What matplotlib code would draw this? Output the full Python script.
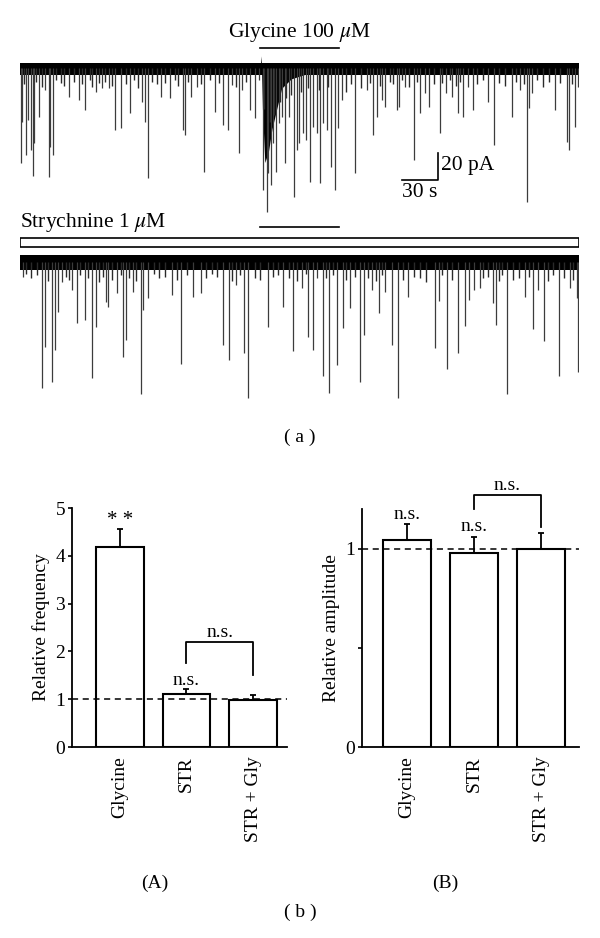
import numpy as np
import matplotlib
matplotlib.use("Agg")
import matplotlib.pyplot as plt
from matplotlib.patches import Rectangle

plt.rcParams['font.family'] = ['Liberation Serif', 'DejaVu Serif']
plt.rcParams['mathtext.fontset'] = 'stix'

# ---- (a) traces: event times (s) and amplitudes (pA)
dur = 465.8

t1 = [0.8, 1.7, 5, 6.7, 9.2, 10.8, 11.7, 15.8, 20.8, 24.2, 25, 27.5, 40.8, 49.2, 54.2,
      63.3, 68.3, 74.2, 79.2, 84.2, 91.7, 101.7, 104.2, 106.7, 117.5, 125, 135.8, 137.5,
      142.5, 147.5, 153.3, 162.5, 169.2, 173.3, 176.7, 182.5, 185, 191.7, 195.8, 199.2,
      202.5, 205.8, 206.7, 209.2, 210.8, 213.3, 215.8, 218.3, 220.8, 224.2, 228.3, 230.8,
      232.5, 235.8, 238.3, 241.7, 244.2, 247.5, 250, 252.5, 255.8, 259.2, 262.5, 265,
      268.3, 279.2, 289.2, 294.2, 297.5, 301.7, 304.2, 314.2, 315.8, 320.8, 328.3, 333.3,
      337.5, 340.8, 350, 355, 360, 365, 369.2, 373.3, 377.5, 390, 395, 410, 416.7, 422.5,
      424.2, 426.7, 445.8, 455.8, 457.5, 462.5, 465]
a1 = [70.4, 40, 64.4, 38.5, 60.7, 80, 55.6, 36.3, 16.3, 80.7, 58.5, 64.4, 21.5, 23.7, 31.1,
      17.8, 14.8, 14.8, 45.9, 44.4, 33.3, 25.2, 40, 81.5, 21.5, 22.2, 45.9, 49.6,
      21.5, 14.1, 77, 32.6, 42.2, 45.9, 12.6, 63, 16.3, 31.1, 37, 8.9,
      90.4, 106.7, 77.8, 86.7, 55.6, 77, 40.7, 36.3, 70.4, 36.3, 95.6, 60.7,
      55.6, 48.1, 53.3, 84.4, 43.7, 48.1, 85.2, 40.7, 45.9, 73.3, 90.4, 44.4,
      23.7, 77.8, 16.3, 49.6, 36.3, 23.7, 28.9, 31.1, 28.9, 14.1, 68.1, 33.3,
      18.5, 28.9, 48.1, 18.5, 21.5, 33.3, 36.3, 14.1, 31.1, 25.2, 57, 36.3, 16.3, 99.3,
      29.6, 18.5, 31.1, 54.8, 60.7, 43.7, 14.1]

# small events fringing the baseline (trace 1)
s1_t = [3, 13, 18, 30, 34, 37, 45, 52, 58, 60, 66, 71, 77, 88, 95, 98, 110, 114, 121, 129,
        132, 140, 151, 158, 166, 180, 188, 203, 208, 212, 217, 222, 226, 234, 240, 249,
        257, 272, 276, 284, 292, 300, 308, 311, 318, 324, 331, 345, 352, 358, 363, 367,
        381, 386, 399, 404, 413, 420, 431, 436, 441, 450, 460]
s1_a = [12, 10, 14, 9, 11, 13, 10, 12, 9, 14, 11, 10, 13, 12, 9, 15, 10, 12, 11, 9,
        13, 10, 12, 9, 11, 14, 10, 30, 40, 35, 25, 22, 20, 18, 15, 16,
        14, 18, 12, 15, 11, 13, 10, 12, 9, 14, 10, 12, 11, 9, 13, 10,
        12, 9, 11, 13, 10, 12, 9, 14, 10, 11, 12]

# inward current during glycine application (trace 1)
gly_t = [200.0, 201.0, 202.0, 204, 207, 210, 214, 218, 226, 240, 260]
gly_i = [0, 9, -30, -70, -62, -45, -30, -15, -8, -4, 0]

t2 = [2.5, 18.3, 20.8, 26.7, 29.2, 31.7, 35, 43.3, 47.5, 54.2, 60, 63.3, 71.7, 73.3, 80.8,
      85.8, 88.3, 94.2, 100.8, 102.5, 106.7, 126.7, 134.2, 144.2, 150.8, 169.2, 174.2,
      180, 186.7, 190, 206.7, 219.2, 227.5, 235, 240, 244.2, 247.5, 252.5, 257.5, 264.2,
      269.2, 275, 283.3, 286.7, 293.3, 299.2, 304.2, 310, 315, 323.3, 345.8, 349.2,
      355.8, 365, 370.8, 374.2, 378.3, 383.3, 394.2, 396.7, 405.8, 420.8, 427.5, 431.7,
      436.7, 449.2, 458.3, 464.2, 465]
a2 = [11.1, 93.3, 63, 88.9, 65.2, 37, 14.8, 20.7, 45.2, 43, 85.9, 48.1, 29.6, 33.3, 23,
      70.4, 57.8, 22.2, 97.8, 35.6, 26.7, 24.4, 75.6, 25.9, 23, 61.5, 72.6,
      17, 67.4, 100.7, 48.1, 33.3, 65.9, 19.3, 55.6, 65.2, 11.9, 84.4, 97, 76.3,
      48.9, 34.1, 88.9, 54.1, 20.7, 37.8, 22.2, 61.5, 100.7, 25.9, 63.7, 28.9,
      79.3, 67.4, 47.4, 28.1, 20.7, 19.3, 30.4, 46.7, 97.8, 25.9, 49.6, 20.7,
      58.5, 84.4, 19.3, 26.7, 81.5]

# small events fringing the baseline (trace 2)
s2_t = [5, 9, 14, 23, 38, 41, 50, 57, 66, 69, 77, 84, 91, 97, 112, 116, 121, 131, 139,
        155, 160, 164, 177, 183, 196, 200, 211, 215, 224, 231, 238, 255, 261, 272, 279,
        290, 297, 302, 319, 328, 333, 338, 352, 360, 386, 390, 399, 402, 411, 416, 424,
        440, 444, 453, 461]
s2_a = [9, 12, 10, 14, 11, 13, 10, 12, 15, 11, 13, 10, 12, 14, 9, 12, 11, 13, 10,
        12, 9, 11, 14, 10, 12, 13, 11, 10, 12, 14, 9, 12, 10, 13, 11,
        12, 14, 10, 13, 11, 12, 15, 10, 13, 12, 11, 14, 10, 13, 12, 11,
        14, 10, 12, 13]

# ---- (b) bar data
groups = ['Glycine', 'STR', 'STR + Gly']
freq = [4.18, 1.11, 0.99]
freq_err = [0.38, 0.10, 0.09]
amp = [1.045, 0.98, 1.0]
amp_err = [0.08, 0.08, 0.08]

W, H = 600, 938
fig = plt.figure(figsize=(W / 100, H / 100), dpi=100)


def px_axes(x0, y0, x1, y1):
    return fig.add_axes([x0 / W, 1 - y1 / H, (x1 - x0) / W, (y1 - y0) / H])


ev_col = '#3c3c3c'

# trace 1
ax1 = px_axes(20, 20, 579, 220)
ax1.set_xlim(0, dur)
ax1.set_ylim(-112.6, 35.6)
ax1.axis('off')
ax1.fill_between([0, dur], -5.2, 3.7, color='black', lw=0)
ax1.fill_between(gly_t, gly_i, 0, color='black', lw=0)
ax1.vlines(s1_t, 0, -np.array(s1_a), color='#2a2a2a', lw=1.0)
ax1.vlines(t1, 0, -np.array(a1), color=ev_col, lw=0.9)
ax1.plot([200, 265.8], [14.8, 14.8], color='black', lw=1.2)
ax1.text(233, 26.5, 'Glycine 100 $\\mu$M', ha='center', va='center', fontsize=15.5)
# scale bar
ax1.plot([318.3, 348.3, 348.3], [-83, -83, -63], color='black', lw=1.2)
ax1.text(351, -72.5, '20 pA', ha='left', va='center', fontsize=15.5)
ax1.text(333.3, -85.5, '30 s', ha='center', va='top', fontsize=15.5)

# trace 2
ax2 = px_axes(20, 205, 579, 410)
ax2.set_xlim(0, dur)
ax2.set_ylim(-109.6, 42.2)
ax2.axis('off')
ax2.patch.set_alpha(0)
ax2.fill_between([0, dur], -5.9, 5.2, color='black', lw=0)
ax2.vlines(s2_t, 0, -np.array(s2_a), color='#2a2a2a', lw=1.0)
ax2.vlines(t2, 0, -np.array(a2), color=ev_col, lw=0.9)
ax2.add_patch(Rectangle((0, 11.1), dur, 6.7, facecolor='white', edgecolor='black', lw=1.2))
ax2.plot([200, 265.8], [25.9, 25.9], color='black', lw=1.2)
ax2.text(0, 29.5, 'Strychnine 1 $\\mu$M', ha='left', va='center', fontsize=15.5)

fig.text(300 / W, 1 - 437 / H, '( a )', ha='center', va='center', fontsize=14)

# ---- bar panels
x = np.arange(3)
fs = 14


def bar_panel(ax, vals, errs, ymax, ylab):
    ax.bar(x, vals, width=0.716, color='white', edgecolor='black', lw=1.5, zorder=2)
    ax.errorbar(x, vals, yerr=[[0, 0, 0], errs], fmt='none', ecolor='black',
                elinewidth=1.3, capsize=2, capthick=1.3, zorder=1)
    ax.axhline(1, color='black', lw=1.1, ls=(0, (4, 3)), zorder=3)
    ax.set_ylim(0, ymax)
    ax.spines['top'].set_visible(False)
    ax.spines['right'].set_visible(False)
    ax.spines['left'].set_linewidth(1.3)
    ax.spines['bottom'].set_linewidth(1.3)
    ax.set_xticks(x)
    ax.set_xticklabels(groups, rotation=90, fontsize=fs)
    ax.tick_params(axis='x', length=0, pad=7)
    ax.tick_params(axis='y', direction='out', length=3, width=1.2, labelsize=fs, pad=2)
    ax.set_ylabel(ylab, fontsize=fs, labelpad=4)


def bracket(ax, x0, x1, top, l0, l1, label, dy):
    ax.plot([x0, x0, x1, x1], [l0, top, top, l1], color='black', lw=1.3, clip_on=False)
    ax.text((x0 + x1) / 2, top + dy, label, ha='center', va='bottom', fontsize=fs,
            clip_on=False)


axA = px_axes(72, 508, 287, 747)
bar_panel(axA, freq, freq_err, 5, 'Relative frequency')
axA.set_xlim(-0.716, 2.507)
axA.set_yticks([0, 1, 2, 3, 4, 5])
axA.text(0, 4.55, '* *', ha='center', va='bottom', fontsize=15)
axA.text(1, 1.22, 'n.s.', ha='center', va='bottom', fontsize=fs)
bracket(axA, 1, 2, 2.2, 1.76, 1.5, 'n.s.', 0.02)
fig.text(155 / W, 1 - 883 / H, '(A)', ha='center', va='center', fontsize=fs)

axB = px_axes(362, 509, 579, 747)
bar_panel(axB, amp, amp_err, 1.2, 'Relative amplitude')
axB.set_xlim(-0.672, 2.567)
axB.set_yticks([0, 0.5, 1])
axB.set_yticklabels(['0', '', '1'])
axB.text(0, 1.13, 'n.s.', ha='center', va='bottom', fontsize=fs)
axB.text(1, 1.07, 'n.s.', ha='center', va='bottom', fontsize=fs)
bracket(axB, 1, 2, 1.27, 1.2, 1.11, 'n.s.', 0.005)
fig.text(445 / W, 1 - 883 / H, '(B)', ha='center', va='center', fontsize=fs)

fig.text(300 / W, 1 - 912 / H, '( b )', ha='center', va='center', fontsize=14)

fig.savefig('out.png', dpi=100)
